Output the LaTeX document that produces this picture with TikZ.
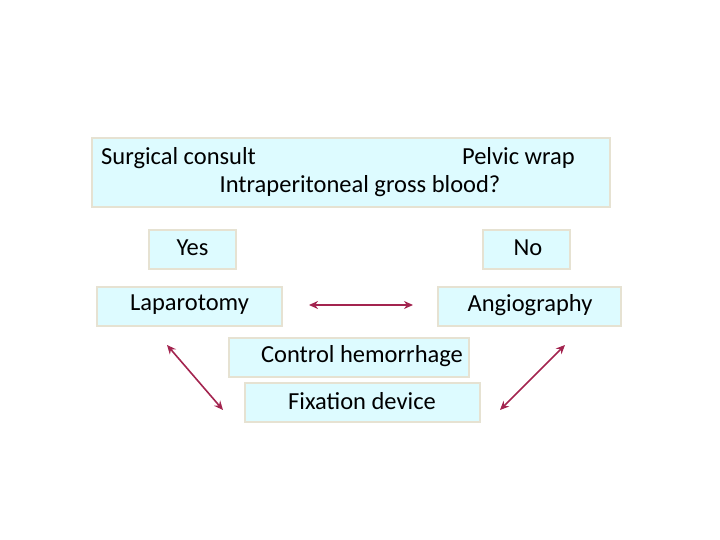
\documentclass[tikz,border=0pt]{standalone}
\usepackage{fontspec}
\setmainfont{Carlito}
\usetikzlibrary{arrows.meta}
\definecolor{boxfill}{HTML}{DDFBFF}
\definecolor{boxline}{HTML}{E6E2D2}
\definecolor{arr}{HTML}{A3244F}
\tikzset{
 bx/.style={draw=boxline,line width=2.5pt,fill=boxfill},
 lbl/.style={font=\fontsize{24.5}{28}\selectfont,inner sep=0pt},
 dbl/.style={draw=arr,line width=1.6pt,{Stealth[length=9pt,width=8pt]}-{Stealth[length=9pt,width=8pt]}}
}
\begin{document}
\begin{tikzpicture}[x=1pt,y=-1pt]
\useasboundingbox (0,0) rectangle (720,540);
\draw[bx] (92,138) rectangle (610,207);
\node[lbl,anchor=west] (sc) at (101,158) {Surgical consult};
\node[lbl,anchor=east] (pw) at (575,158) {Pelvic wrap};
\node[lbl] (ig) at (360,186) {Intraperitoneal gross blood?};
\draw[bx] (149,230) rectangle (236,269);
\node[lbl] (yes) at (192.5,248) {Yes};
\draw[bx] (483,230) rectangle (570,269);
\node[lbl] (no) at (528,248) {No};
\draw[bx] (97,287) rectangle (282,326);
\node[lbl] (lap) at (189.5,305) {Laparotomy};
\draw[bx] (438,287) rectangle (621,326);
\node[lbl] (ang) at (530,305) {Angiography};
\draw[bx] (229,338) rectangle (469,377);
\node[lbl] (ch) at (362,356) {Control hemorrhage};
\draw[bx] (245,383) rectangle (480,422);
\node[lbl] (fd) at (362,401) {Fixation device};
\coordinate (a1) at (309,305); \coordinate (a2) at (413,305);
\coordinate (b1) at (167,345); \coordinate (b2) at (223,410);
\coordinate (c1) at (565,345); \coordinate (c2) at (500,410);
\draw[dbl] (a1) -- (a2);
\draw[dbl] (b1) -- (b2);
\draw[dbl] (c1) -- (c2);
\end{tikzpicture}
\end{document}
